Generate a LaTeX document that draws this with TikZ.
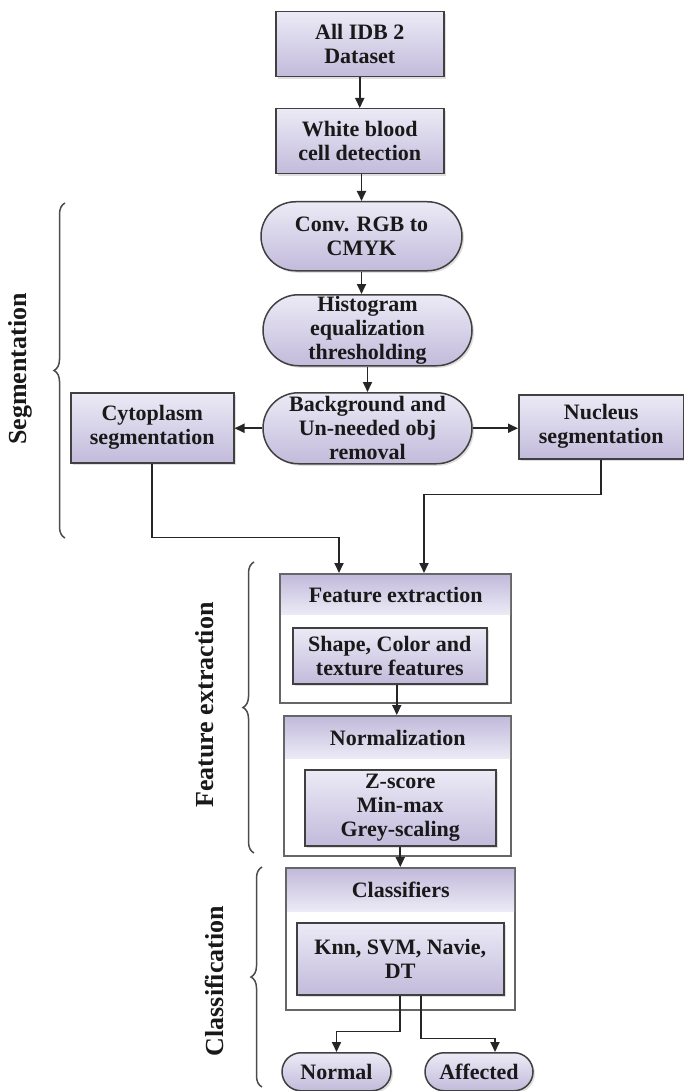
\documentclass[tikz,border=0pt]{standalone}
\usepackage{fontspec}
\setmainfont{Liberation Serif}
\usetikzlibrary{arrows.meta,shapes.misc,shadows,decorations.pathreplacing}

\definecolor{lavlight}{RGB}{236,234,246}
\definecolor{lavdark}{RGB}{194,187,219}
\definecolor{edge}{RGB}{64,64,64}

\begin{document}
\begin{tikzpicture}[x=1pt, y=-1pt,
        every node/.style={font=\fontsize{22}{24}\selectfont\bfseries,
                           text=black!90},
        stage/.style={draw=edge, line width=1.5pt, top color=lavlight,
                      bottom color=lavdark, align=center, inner sep=0pt,
                      anchor=north west,
                      drop shadow={opacity=0.25, shadow xshift=2pt,
                                   shadow yshift=-2pt}},
        pill/.style={stage, rounded rectangle, anchor=north},
        panel/.style={draw=edge!80, line width=2pt, fill=white,
                      anchor=north west, inner sep=0pt},
        band/.style={top color=lavdark, bottom color=lavlight,
                     anchor=north west, inner sep=0pt},
        flow/.style={draw=black!85, line width=1.8pt,
                     -{Triangle[length=10pt,width=9pt]}},
        group/.style={decorate, decoration={brace, amplitude=11pt},
                      draw=black!70, line width=1.5pt},
        grouplabel/.style={rotate=90,
                           font=\fontsize{26}{28}\selectfont\bfseries},
    ]
    \useasboundingbox (0,0) rectangle (684,1091);

    % preprocessing
    \node[stage, minimum width=168pt, minimum height=65pt]
        (dataset) at (275,11) {All IDB 2\\Dataset};
    \node[stage, minimum width=168pt, minimum height=65pt]
        (wbc) at (275,108) {White blood\\cell detection};

    % segmentation (pills are placed by their top centre)
    \node[pill, minimum width=201pt, minimum height=69pt]
        (cmyk) at (361.5,201) {Conv. RGB to\\CMYK};
    \node[pill, minimum width=209pt, minimum height=71pt]
        (histo) at (367.5,294) {Histogram\\equalization\\thresholding};
    \node[pill, minimum width=209pt, minimum height=71pt]
        (backgr) at (367.5,392) {Background and\\Un-needed obj\\removal};
    \node[stage, minimum width=163pt, minimum height=70pt]
        (cyto) at (70,392) {Cytoplasm\\segmentation};
    \node[stage, minimum width=165pt, minimum height=64pt]
        (nucleus) at (518,394) {Nucleus\\segmentation};

    % feature extraction
    \node[panel, minimum width=231pt, minimum height=129pt]
        (fe) at (279,573) {};
    \node[band, minimum width=229pt, minimum height=39pt]
        (fehead) at ([xshift=2pt, yshift=-2pt]fe.north west)
        {Feature extraction};
    \node[stage, minimum width=194pt, minimum height=56pt]
        (shape) at (292,627) {Shape, Color and\\texture features};

    \node[panel, minimum width=227pt, minimum height=140pt]
        (norm) at (283,715) {};
    \node[band, minimum width=225pt, minimum height=41pt]
        (normhead) at ([xshift=2pt, yshift=-2pt]norm.north west)
        {Normalization};
    \node[stage, minimum width=191pt, minimum height=76pt]
        (zscore) at (304,769) {Z-score\\Min-max\\Grey-scaling};

    % classification
    \node[panel, minimum width=229pt, minimum height=142pt]
        (clf) at (285,867) {};
    \node[band, minimum width=227pt, minimum height=42pt]
        (clfhead) at ([xshift=2pt, yshift=-2pt]clf.north west)
        {Classifiers};
    \node[stage, minimum width=207pt, minimum height=72pt]
        (algos) at (296,922) {Knn, SVM, Navie,\\DT};

    \node[pill, minimum width=109pt, minimum height=38pt]
        (normal) at (336.5,1052) {Normal};
    \node[pill, minimum width=108pt, minimum height=38pt]
        (affected) at (479,1052) {Affected};

    % arrows
    \draw[flow] (dataset) -- (wbc);
    \draw[flow] (wbc.south -| cmyk.north) -- (cmyk.north);
    \draw[flow] (cmyk.south) -- (cmyk.south |- histo.north);
    \draw[flow] (histo.south) -- (histo.south |- backgr.north);
    \draw[flow] (backgr.west) -- (backgr.west -| cyto.east);
    \draw[flow] (backgr.east) -- (backgr.east -| nucleus.west);
    \draw[flow] (cyto.south) -- ++(0,74) -| ([xshift=-56.5pt]fe.north);
    \draw[flow] (nucleus.south) -- ++(0,35) -| ([xshift=28.5pt]fe.north);
    \draw[flow] ([xshift=7pt]shape.south) -- ([xshift=7pt]shape.south |- norm.north);
    \draw[flow] (zscore.south) -- (zscore.south |- clf.north);
    \draw[flow] (algos.south) -- ++(0,36) -| (normal.north);
    \draw[flow] ([xshift=20.5pt]algos.south) -- ++(0,43)
        -| ([xshift=16pt]affected.north);

    % stage braces
    \draw[group] (65,538) -- (65,203);
    \node[grouplabel] (seglabel) at (20,369) {Segmentation};
    \draw[group] (254,853) -- (254,562);
    \node[grouplabel] (felabel) at (205,705) {Feature extraction};
    \draw[group] (262,1087) -- (262,867);
    \node[grouplabel] (clflabel) at (214,981) {Classification};
\end{tikzpicture}
\end{document}
